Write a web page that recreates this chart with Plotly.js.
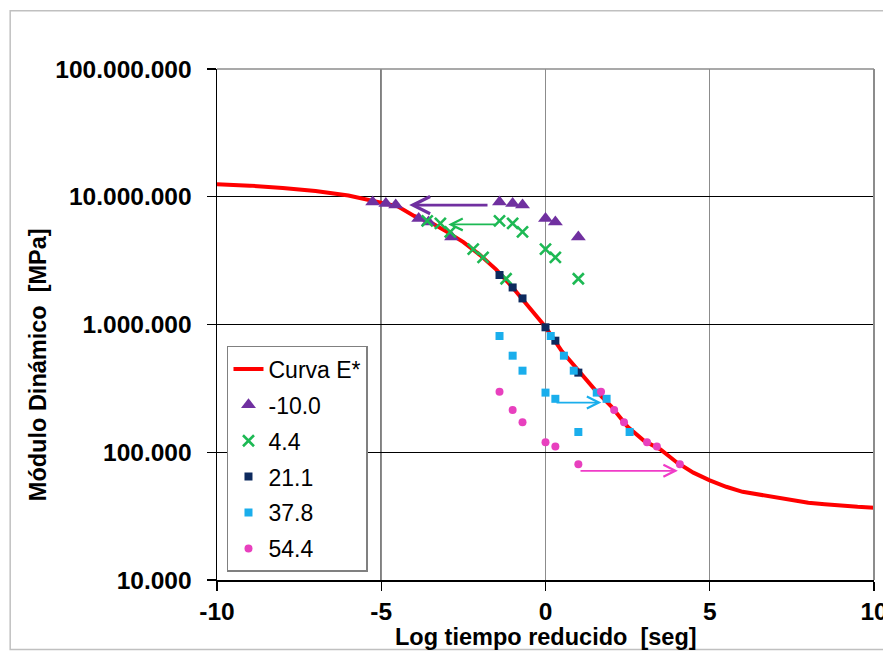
<!DOCTYPE html>
<html><head><meta charset="utf-8">
<script src="https://cdn.plot.ly/plotly-3.0.1.min.js"></script>
<style>html,body{margin:0;padding:0;background:#fff}#chart{width:883px;height:653px}</style>
</head><body><div id="chart"></div>
<script>
// Master curve (Curva E*)
const curveLogT = [-10,-9,-8,-7,-6,-5.5,-5,-4.5,-4,-3.5,-3,-2.5,-2,-1.5,-1,-0.5,0,0.5,1,1.5,2,2.5,3,3.5,4,4.5,5,5.5,6,6.5,7,7.5,8,8.5,9,9.5,10];
const curveE = [12530000,12220000,11690000,11070000,10230000,9550000,9020000,8410000,7080000,6310000,5310000,4420000,3510000,2690000,1950000,1380000,955000,617000,437000,309000,229000,158000,123000,105000,83200,69200,60300,53700,49000,46600,44200,42200,40300,39200,38100,37400,36800];

// Measured log time (1/f)
const logT = [-1.4,-1.0,-0.7,0,0.3,1.0];
// -10.0 °C
const eM10 = [9100000,8850000,8600000,6760000,6350000,4850000];
const xM10shift = [-5.26,-4.86,-4.56,-3.86,-3.56,-2.86];
// 4.4 °C
const e4 = [6470000,6180000,5310000,3890000,3350000,2280000];
const x4shift = [-3.6,-3.2,-2.9,-2.2,-1.9,-1.2];
// 21.1 °C
const e21 = [2440000,1950000,1600000,951000,747000,420000];
// 37.8 °C
const e37 = [813000,570000,435000,293000,262000,144000];
const x37shift = [0.16,0.56,0.86,1.56,1.86,2.56];
// 54.4 °C
const e54 = [297000,214000,172000,120000,111000,80400];
const x54shift = [1.69,2.09,2.39,3.09,3.39,4.09];

// Shift arrows: start x, end x, level E
const arrowFromX = [-1.72,-1.49,0.29,1.02];
const arrowToX = [-4.15,-2.96,1.70,4.03];
const arrowE = [8600000,6070000,245000,71600];
const arrowColors = ['#7030A0','#1DB954','#1AAEEC','#F03CC8'];
const arrowWidths = [2.6,1.8,1.8,1.8];

const legendNames = ['Curva E*','-10.0','4.4','21.1','37.8','54.4'];
const yTicks = [10000,100000,1000000,10000000,100000000];
const xTicks = [-10,-5,0,5,10];
const xTickText = ['-10','-5','0','5','10'];

const F = 'Arial, "Liberation Sans", sans-serif';
const traces = [
  {x: curveLogT, y: curveE, name: legendNames[0], mode:'lines', line:{color:'#FF0000', width:4}, legendgroup:'a'},
  {x: logT.concat(xM10shift), y: eM10.concat(eM10), name: legendNames[1], mode:'markers', marker:{symbol:'triangle-up', size:13, color:'#7030A0'}, legendgroup:'b'},
  {x: logT.concat(x4shift), y: e4.concat(e4), name: legendNames[2], mode:'markers', marker:{symbol:'x-thin-open', size:11, color:'#1DB954', line:{width:2.6, color:'#1DB954'}}, legendgroup:'c'},
  {x: logT, y: e21, name: legendNames[3], mode:'markers', marker:{symbol:'square', size:8, color:'#0D2A5E'}, legendgroup:'d'},
  {x: logT.concat(x37shift), y: e37.concat(e37), name: legendNames[4], mode:'markers', marker:{symbol:'square', size:8, color:'#1AAEEC'}, legendgroup:'e'},
  {x: logT.concat(x54shift), y: e54.concat(e54), name: legendNames[5], mode:'markers', marker:{symbol:'circle', size:8, color:'#E840BE'}, legendgroup:'f'}
];

const annotations = arrowFromX.map((fx,i)=>({
  x: arrowToX[i], y: Math.log10(arrowE[i]), xref:'x', yref:'y',
  ax: fx, ay: Math.log10(arrowE[i]), axref:'x', ayref:'y',
  showarrow:true, arrowhead:5, arrowsize:1.3, arrowwidth:arrowWidths[i], arrowcolor:arrowColors[i], text:''
}));
annotations.push({text:'Módulo Dinámico  [MPa]', xref:'paper', yref:'paper', x:-0.272, y:0.421, textangle:-90, showarrow:false, font:{family:F, size:23.5, color:'#000', weight:'bold'}, xanchor:'center', yanchor:'middle'});
annotations.push({text:'Log tiempo reducido  [seg]', xref:'paper', yref:'paper', x:0.5, y:-0.112, showarrow:false, font:{family:F, size:23.5, color:'#000', weight:'bold'}, xanchor:'center', yanchor:'middle'});

const layout = {
  width:883, height:653,
  margin:{l:217, r:8.5, t:68.5, b:72.5},
  paper_bgcolor:'#fff', plot_bgcolor:'#fff',
  separators:',.',
  showlegend:true,
  legend:{x:0.0152, y:0.458, xanchor:'left', yanchor:'top', bgcolor:'#fff', bordercolor:'#808080', borderwidth:1.5,
    font:{family:F, size:23, color:'#000'}, traceorder:'grouped', tracegroupgap:3, itemwidth:30},
  xaxis:{range:[-10,10], tickvals:xTicks, ticktext:xTickText, showgrid:true, gridcolor:'#8c8c8c', gridwidth:1.2, zeroline:false,
    showline:true, linecolor:'#000', linewidth:1.5, ticks:'outside', ticklen:9, tickwidth:1.3, tickcolor:'#000',
    tickfont:{family:F, size:24.5, color:'#000', weight:'bold'}, ticklabelstandoff:0, ticklabeloverflow:'allow'},
  yaxis:{type:'log', range:[4,8], tickvals:yTicks, tickformat:',.0f', showgrid:true, gridcolor:'#000', gridwidth:1.3, zeroline:false,
    showline:true, linecolor:'#000', linewidth:1.5, ticks:'outside', ticklen:9, tickwidth:1.3, tickcolor:'#000',
    tickfont:{family:F, size:24.5, color:'#000', weight:'bold'}, ticklabelstandoff:10},
  shapes:[
    {type:'rect', xref:'paper', yref:'paper', x0:-0.3148, x1:1.05, y0:-0.136, y1:1.114, line:{color:'#c0c0c0', width:1.5}, layer:'below'},
    {type:'line', xref:'paper', yref:'paper', x0:0, x1:1, y0:1, y1:1, line:{color:'#8c8c8c', width:1.5}},
    {type:'line', xref:'paper', yref:'paper', x0:1, x1:1, y0:0, y1:1, line:{color:'#8c8c8c', width:2}},
    {type:'line', xref:'x', yref:'paper', x0:-5, x1:-5, y0:0, y1:1, line:{color:'#000', width:1.5}, layer:'below'}
  ],
  annotations: annotations
};
Plotly.newPlot('chart', traces, layout, {displayModeBar:false, staticPlot:true});
</script></body></html>
